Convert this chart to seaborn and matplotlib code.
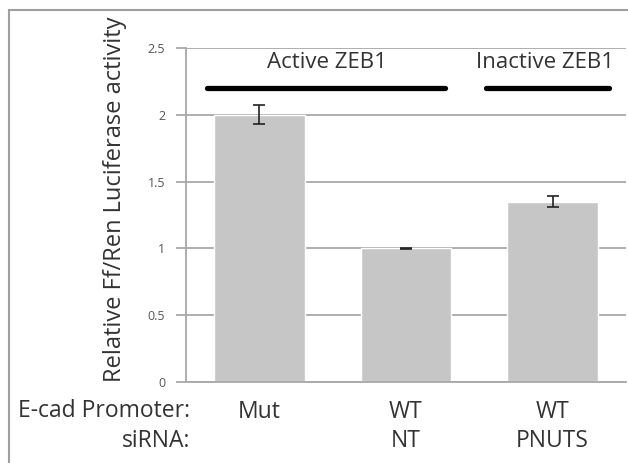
import pandas as pd
import seaborn as sns
import matplotlib.pyplot as plt
from matplotlib.patches import Rectangle

# Values
promoter = ["Mut", "WT", "WT"]
sirna = ["", "NT", "PNUTS"]
activity = [2.0, 1.0, 1.35]
errors = [0.07, 0.004, 0.04]
yticks = [0, 0.5, 1, 1.5, 2, 2.5]
ytick_labels = ["0", "0.5", "1", "1.5", "2", "2.5"]

df = pd.DataFrame({
    "group": [p + "\n" + s for p, s in zip(promoter, sirna)],
    "activity": activity,
})

sns.set_style("white")
plt.rcParams["font.family"] = ["Open Sans", "DejaVu Sans"]

fig = plt.figure(figsize=(6.28, 4.63), dpi=100)
ax = fig.add_axes([186 / 628, 81 / 463, 440 / 628, 334 / 463])

sns.barplot(data=df, x="group", y="activity", color="#c6c6c6",
            width=0.62, saturation=1, errorbar=None, ax=ax, zorder=2)
ax.errorbar(range(len(activity)), activity, yerr=errors, fmt="none",
            ecolor="#222222", elinewidth=1.2, capsize=4, capthick=1.2, zorder=3)

ax.set_xlim(-0.5, 2.5)
ax.set_ylim(0, 2.5)
ax.set_yticks(yticks)
ax.set_yticklabels(ytick_labels, fontsize=9, color="#555555")
ax.yaxis.grid(True, color="#a8a8a8", linewidth=1.3, zorder=0)
ax.set_axisbelow(True)
ax.tick_params(axis="y", direction="out", length=7, width=1.3, color="#a8a8a8", pad=8, left=True)
ax.tick_params(axis="x", length=0, labelsize=16.5, labelcolor="#333333", pad=13)
for lab in ax.get_xticklabels():
    lab.set_linespacing(1.3)

for side in ["top", "right"]:
    ax.spines[side].set_visible(False)
for side in ["left", "bottom"]:
    ax.spines[side].set_color("#a8a8a8")
    ax.spines[side].set_linewidth(1.3)

ax.set_xlabel("")
ax.set_ylabel("Relative Ff/Ren Luciferase activity", fontsize=17, color="#333333")
ax.yaxis.set_label_coords(-0.134, 0.548)

# group bars and labels above
ax.plot([-0.357, 1.265], [2.2, 2.2], color="black", linewidth=3.8, solid_capstyle="round", clip_on=False)
ax.plot([1.545, 2.383], [2.2, 2.2], color="black", linewidth=3.8, solid_capstyle="round", clip_on=False)
ax.text(0.46, 2.395, "Active ZEB1", ha="center", va="center", fontsize=16, color="#333333")
ax.text(1.95, 2.395, "Inactive ZEB1", ha="center", va="center", fontsize=16, color="#333333")

# row labels on the left
ax.text(-0.5 + 0.03, -0.22, "E-cad Promoter:", ha="right", va="center", fontsize=16.5,
        color="#333333", transform=ax.transData, clip_on=False)
ax.text(-0.5 + 0.03, -0.445, "siRNA:", ha="right", va="center", fontsize=16.5,
        color="#333333", transform=ax.transData, clip_on=False)

# outer frame
fig.patches.append(Rectangle((9 / 628, -0.1), 1.2, 1 - 10 / 463 + 0.1, transform=fig.transFigure,
                             fill=False, edgecolor="#a0a0a0", linewidth=1.5))

fig.savefig("out.png", dpi=100)
